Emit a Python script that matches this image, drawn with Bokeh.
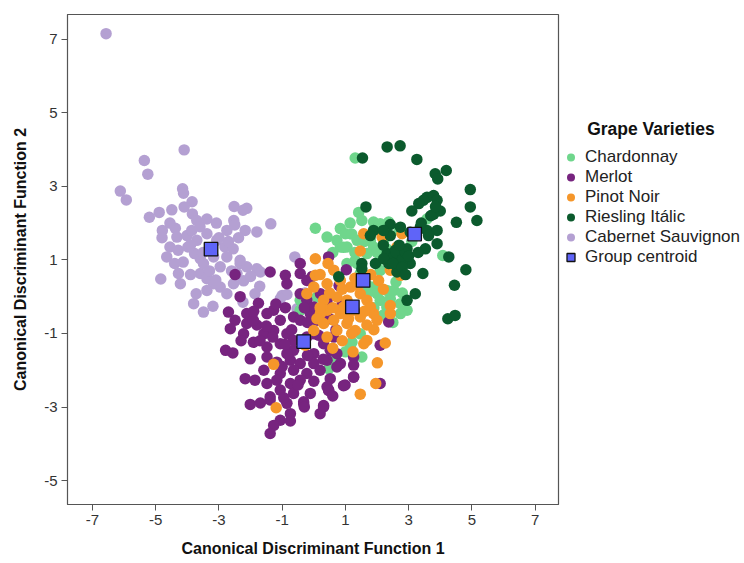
from bokeh.plotting import figure
from bokeh.models import Legend, LegendItem, Range1d, FixedTicker
from bokeh.embed import file_html
from bokeh.resources import INLINE

# ---------------- data ----------------
groups = ["Chardonnay", "Merlot", "Pinot Noir", "Riesling Itálic", "Cabernet Sauvignon"]
colors = ["#6fd68c", "#77247f", "#f5962a", "#0b5a2d", "#b4a0d2"]

cab_x = [-6.57, -4.10, -5.36, -5.25, -6.12, -5.93, -4.15, -4.12, -3.85, -5.20, -4.89, -4.49, -4.10,
         -3.84, -2.52, -2.12, -2.24, -1.36, -4.79, -4.38, -3.70, -3.38, -3.08, -2.53, -2.75, -2.17,
         -1.80, -4.33, -4.01, -3.70, -2.38, -4.55, -4.29, -3.98, -3.77, -2.81, -2.55, -4.65, -4.13,
         -3.59, -3.17, -2.75, -2.33, -2.12, -1.80, -1.69, -2.43, -4.84, -4.28, -4.22, -3.59, -3.38,
         -3.17, -2.96, -2.75, -3.38, -3.72, -3.80, -3.49, -3.19, -2.54, -1.71, -1.86, -1.00, -0.85,
         -0.60, -0.28, -0.53, -2.24, -2.33, -3.38, -3.07, -3.49, -2.96, -3.86, -2.22, -1.06,
         -3.60, -3.90, -3.50, -3.00, -2.70, -3.30, -2.60, -3.90, -4.40, -3.10, -2.00, -2.50, -4.80, -4.55]
cab_y = [7.15, 3.99, 3.70, 3.33, 2.87, 2.63, 2.93, 2.81, 2.58, 2.16, 2.29, 2.36, 2.44,
         2.25, 2.45, 2.40, 2.35, 1.98, 1.80, 1.86, 2.07, 2.11, 2.00, 2.07, 1.80, 1.80,
         1.76, 1.62, 1.66, 1.53, 1.60, 1.35, 1.26, 1.35, 1.17, 1.35, 1.30, 1.08, 0.94,
         1.03, 1.08, 1.08, 0.90, 0.81, 0.76, 0.67, 0.63, 0.48, 0.63, 0.35, 0.63, 0.49,
         0.35, 0.26, 0.08, 0.17, 0.08, -0.19, -0.42, -0.26, 0.35, 0.28, 0.08, 0.03, 0.06,
         1.08, 0.10, -0.33, -0.15, 0.99, 1.71, 1.53, 0.90, 0.81, 1.80, 0.43, -0.06,
         1.90, 1.40, 1.20, 1.60, 1.50, 0.70, 0.70, 0.60, 0.90, 0.45, 0.55, 1.95, 1.60, 2.00]

mer_x = [-0.43, 0.47, -1.38, -2.49, -0.90, -0.43, -0.85, -0.22, -2.33, -1.75, -2.70, -2.49, -2.12,
         -1.80, -1.48, -1.27, -1.06, -0.64, -0.43, -0.11, 0.10, -2.64, -1.58, -1.27, -0.85, -1.91,
         -1.48, -1.06, -0.64, 0.00, 0.31, 0.63, 0.00, -2.79, -2.56, -2.01, -1.48, -1.17, -0.74,
         -0.43, 0.00, 0.42, 0.73, 0.84, 1.26, -1.58, -1.06, -0.64, -0.22, 0.20, 1.26, -2.17,
         -1.86, -1.48, -1.17, -0.74, -0.43, 0.52, 1.26, -1.06, -0.64, -1.38, 0.47, 0.99, -2.01,
         -1.69, -1.38, -0.85, -0.32, 0.31, 0.20, -0.74, -1.06, -0.74, -1.27, -1.38, 2.10, 2.37,
         2.10, 1.03, -0.22, 0.00, 0.21, 0.42, -0.43, -2.12, -2.22, -1.91, 0.73, 0.52, -0.22,
         -0.85, 0.42, -0.11, -0.64, 1.26, 0.94, 0.47, 0.31, -0.32,
         -1.20, -0.90, -0.70, -0.30, 0.20, -0.20, 0.30, -1.30, -0.90, -0.50, 0.00, -1.00, -1.70,
         0.50, 0.70, -0.20, 0.15, -1.50, -0.30, 0.60, -0.95, -2.30, -1.90, 0.80, 0.90, -0.05]
mer_y = [0.90, 1.08, 0.67, 0.60, 0.58, 0.63, 0.35, 0.44, 0.00, -0.18, -0.42, -0.64, -0.73,
         -0.77, -0.46, -0.37, -0.64, -0.55, -0.64, -0.46, -0.64, -0.87, -1.01, -0.92, -1.01, -1.24,
         -1.37, -1.28, -1.46, -1.01, -1.28, -1.10, -1.55, -1.46, -1.53, -1.69, -1.64, -1.78, -1.73,
         -1.82, -1.82, -1.73, -1.55, -1.82, -1.64, -2.00, -2.09, -2.00, -2.09, -2.00, -1.86, -2.23,
         -2.27, -2.36, -2.27, -2.36, -2.27, -2.23, -2.18, -2.54, -2.63, -2.72, -2.54, -2.40, -2.93,
         -2.89, -2.81, -2.90, -2.86, -3.00, -3.18, -3.18, -3.36, -3.38, -3.50, -3.72, -1.32, -0.69,
         -2.36, 0.73, -0.10, -0.28, 0.08, -0.10, 0.08, -0.46, -1.01, -0.64, -1.91, -1.46, -1.10,
         -1.55, -2.45, -2.63, -1.19, -2.19, -2.42, -2.55, -2.96, -2.92,
         -0.20, -0.30, -0.90, -0.30, -0.40, -1.60, -1.70, -1.10, -1.30, -2.40, -2.30, -1.90, -1.20,
         -0.60, -0.90, -0.70, -1.05, -0.80, -3.00, -2.70, -2.75, -1.20, -0.40, 0.30, -0.20, 0.55]

pin_x = [0.05, 1.47, 1.58, 2.16, 2.79, 2.63, 0.05, 0.63, 0.00, 0.42, 0.84, 1.16, 2.05, 2.42, 2.74,
         -0.22, 0.31, 0.73, 1.05, 1.47, 1.68, 0.42, 0.84, 1.47, 1.89, 2.42, 2.42, 0.31, 0.73, 1.05,
         1.68, 2.00, 0.00, 0.42, 1.68, 2.26, -0.27, -1.27, 1.24, 2.01, 1.96, 1.47, -1.19, 1.58,
         0.63, 1.26, 0.94, 1.31, 0.21, 1.79,
         0.20, 0.50, 0.90, 1.30, 1.10, 0.60, 1.60, 1.90, 0.20, 0.90, 1.40, 2.20, 0.45, 2.60, 1.80,
         0.10, 0.60, 1.20]
pin_y = [1.03, 1.24, 1.71, 1.62, 1.71, 1.35, 0.58, 0.72, 0.26, 0.35, 0.44, 0.26, 0.44, 0.72, 0.58,
         0.08, -0.10, -0.01, -0.10, 0.08, -0.10, -0.37, -0.46, -0.55, -0.46, -0.24, -0.46, -0.73, -0.92, -0.73,
         -0.77, -0.64, -0.92, -1.10, -1.19, -1.26, -1.32, -1.84, -1.50, -1.80, -2.36, -2.65, -3.02, -1.28,
         -0.64, -0.37, -0.28, -0.92, -0.46, -0.28,
         0.60, 0.10, 0.20, 0.50, -0.60, -0.30, -0.40, -0.90, -0.30, -1.20, 0.30, 0.20, 0.90, 1.00, 0.60,
         -0.60, -1.40, -1.00]

cha_x = [1.31, 0.05, 0.42, 0.84, 1.00, 1.42, 1.52, 1.89, 2.10, 2.37, 0.73, 1.05, 0.84, 1.37, 1.89,
         1.68, 1.05, 1.37, 2.00, 3.58, 4.08, 2.63, 1.89, 2.00, 2.31, 2.10, 2.42, 2.74, 2.95, 2.74,
         2.31, 1.47, 1.21, 1.52, 1.16, -0.43, -0.43, 0.47, 0.10, 2.53, 1.47, 1.68, 0.94, 1.79,
         2.21, 1.31, 2.10,
         1.20, 1.60, 2.00, 2.30, 1.30, 0.60, 1.70, 2.60, 2.20, 2.80, 1.90, 0.60, 1.00, 2.50, 1.15,
         2.70, 3.10]
cha_y = [3.77, 1.86, 1.62, 1.85, 1.71, 2.29, 2.07, 2.03, 1.98, 2.03, 1.53, 1.35, 1.35, 1.53, 1.35,
         1.17, 0.90, 0.90, 0.90, 2.11, 1.12, 0.94, 0.26, 0.08, 0.17, -0.10, -0.06, -0.19, -0.37, -0.46,
         -0.28, -1.01, -1.24, -1.64, -1.37, -0.10, -0.37, -1.96, -0.01, 0.17, 0.63, 0.08, 1.34, 1.52,
         1.52, 0.98, 0.71,
         1.70, 1.50, 1.20, 1.30, 1.20, 1.20, 0.30, 0.40, -0.50, 0.10, -0.30, -1.70, -1.50, -0.70, 2.00,
         1.80, 1.50]

ries_x = [1.54, 2.32, 2.73, 3.26, 3.84, 3.92, 4.19, 4.95, 4.95, 5.16, 4.51, 3.58, 3.79, 3.47, 3.32,
          3.10, 3.90, 4.00, 3.79, 3.37, 3.58, 3.90, 3.63, 1.65, 1.89, 1.79, 2.42, 2.42, 2.74, 3.05,
          2.95, 3.53, 3.90, 2.32, 2.53, 2.74, 2.37, 2.74, 2.63, 3.05, 4.27, 4.81, 3.45, 1.95, 1.52,
          1.52, 0.79, 4.45, 3.21, 2.95, 4.24, 4.47, 2.58, 2.21,
          2.60, 2.80, 2.90, 2.50, 2.80, 3.00, 2.70, 3.30, 2.20, 2.90, 3.40, 3.70, 3.85, 2.20]
ries_y = [3.77, 4.07, 4.10, 3.73, 3.34, 3.20, 3.43, 2.91, 2.44, 2.07, 2.02, 2.70, 2.75, 2.62, 2.53,
          2.33, 2.62, 2.33, 2.24, 1.89, 1.80, 1.80, 1.66, 2.44, 1.80, 1.66, 1.96, 1.66, 1.89, 1.75,
          1.30, 1.30, 1.44, 1.17, 1.08, 1.17, 0.90, 0.90, 0.67, 0.90, 1.08, 0.73, 0.63, 0.90, 0.90,
          0.76, 0.54, 0.31, 0.08, -0.10, -0.60, -0.51, 1.26, 1.03,
          1.20, 1.00, 1.20, 0.90, 0.80, 1.10, 1.40, 1.20, 1.40, 0.60, 2.00, 2.20, 2.45, 1.80]

centroid_x = [1.56, -0.32, 1.22, 3.19, -3.25]
centroid_y = [0.44, -1.22, -0.28, 1.70, 1.29]

ticks = [-7, -5, -3, -1, 1, 3, 5, 7]
x_range = (-7.79, 7.74)
y_range = (-5.65, 7.67)

# ---------------- figure ----------------
p = figure(frame_width=491, frame_height=490, output_backend="svg", toolbar_location=None,
           x_range=Range1d(*x_range), y_range=Range1d(*y_range),
           min_border_left=67, min_border_right=0, min_border_top=14, min_border_bottom=0,
           background_fill_color="white", border_fill_color="white")
p.grid.visible = False
p.outline_line_color = "#555555"
p.outline_line_width = 1.2

for ax in (p.xaxis[0], p.yaxis[0]):
    ax.ticker = FixedTicker(ticks=ticks)
    ax.major_label_overrides = {t: str(t) for t in ticks}
    ax.minor_tick_line_color = None
    ax.major_tick_in = 0
    ax.major_tick_out = 6
    ax.major_tick_line_color = "#555555"
    ax.axis_line_color = "#555555"
    ax.major_label_text_font = "Liberation Sans"
    ax.major_label_text_font_size = "15px"
    ax.major_label_text_color = "#333333"
    ax.major_label_standoff = 4
    ax.axis_label_text_font = "Liberation Sans"
    ax.axis_label_text_font_size = "16px"
    ax.axis_label_text_font_style = "bold"
    ax.axis_label_text_color = "#111111"
p.xaxis.axis_label = "Canonical Discriminant Function 1"
p.yaxis.axis_label = "Canonical Discriminant Function 2"
p.xaxis.axis_label_standoff = 12
p.yaxis.axis_label_standoff = 12

size = 11.5
r_cab = p.scatter(cab_x, cab_y, size=size, fill_color=colors[4], line_color=None)
r_cha = p.scatter(cha_x, cha_y, size=size, fill_color=colors[0], line_color=None)
r_mer = p.scatter(mer_x, mer_y, size=size, fill_color=colors[1], line_color=None)
r_pin = p.scatter(pin_x, pin_y, size=size, fill_color=colors[2], line_color=None)
r_rie = p.scatter(ries_x, ries_y, size=size, fill_color=colors[3], line_color=None)
r_cen = p.scatter(centroid_x, centroid_y, marker="square", size=13.5, fill_color="#5f64f8",
                  line_color="#111111", line_width=1.3)

items = [LegendItem(label=groups[0], renderers=[r_cha]),
         LegendItem(label=groups[1], renderers=[r_mer]),
         LegendItem(label=groups[2], renderers=[r_pin]),
         LegendItem(label=groups[3], renderers=[r_rie]),
         LegendItem(label=groups[4], renderers=[r_cab]),
         LegendItem(label="Group centroid", renderers=[r_cen])]
legend_title = "\u00a0" * 6 + "Grape Varieties"
legend = Legend(items=items, location=(0, 237), title=legend_title,
                border_line_color=None, background_fill_alpha=0,
                padding=0, margin=0, spacing=0,
                glyph_width=25, glyph_height=20, label_height=20, label_standoff=2,
                label_text_font="Liberation Sans", label_text_font_size="17px",
                label_text_color="#222222",
                title_text_font="Liberation Sans", title_text_font_size="17.5px",
                title_text_font_style="bold", title_text_color="#111111", title_standoff=7)
p.add_layout(legend, "right")

open("out.html", "w").write(file_html(p, INLINE))
